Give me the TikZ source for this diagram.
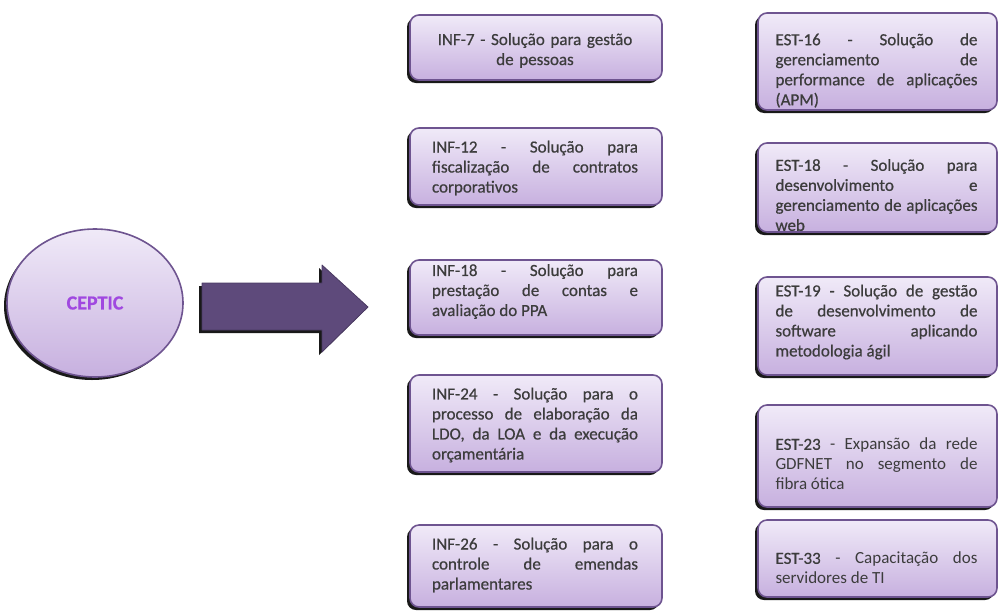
\documentclass[tikz,border=0pt]{standalone}
\usepackage{fontspec}
\setmainfont{Carlito}[FakeBold=0.6]
\newfontfamily\plainfont{Carlito}
\usetikzlibrary{shadows,shapes.geometric}
\definecolor{boxtop}{HTML}{F0EAF8}
\definecolor{boxbot}{HTML}{C7B0DF}
\definecolor{boxline}{HTML}{6E5490}
\definecolor{txt}{HTML}{3C3C3C}
\definecolor{arrowfill}{HTML}{5E4A7B}
\definecolor{arrowline}{HTML}{4A3A62}
\definecolor{ceptic}{HTML}{A048E0}
% paragraph settings for the justified card texts
\newcommand\cardpar{\lefthyphenmin=64\relax\righthyphenmin=64\relax\tolerance=10000\relax\hbadness=10000\relax\hfuzz=40pt\relax}
% \placecard{name}{style}{x}{y}{height}{text drop}{text}
\newcommand\placecard[7]{%
  \node[#2box,minimum height=#5] (#1) at (#3,#4) {};
  \node[#2text] (#1-text) at (#1.center) [yshift=-#6pt] {\cardpar #7};
}
\begin{document}
\begin{tikzpicture}[x=1pt,y=-1pt,
  shade/.style={drop shadow={shadow xshift=-3pt,shadow yshift=-3pt,opacity=0.9,fill=black}},
  cardbox/.style={shade,draw=boxline,line width=1.6pt,rounded corners=9pt,
    top color=boxtop,bottom color=boxbot,inner sep=0pt,anchor=center},
  cardtext/.style={text=txt,font=\fontsize{17}{20}\selectfont,align=justify,inner sep=0pt,anchor=center},
  lbox/.style={cardbox,minimum width=252pt},
  ltext/.style={cardtext,text width=206pt,xshift=-1pt},
  cbox/.style={lbox},
  ctext/.style={ltext,align=center},
  rbox/.style={cardbox,minimum width=239pt},
  rtext/.style={cardtext,text width=202pt,xshift=-1pt},
]
\useasboundingbox (0,0) rectangle (1000,611);

% source circle
\node[ellipse,shade,draw=boxline,line width=1.6pt,top color=boxtop,bottom color=boxbot,
  minimum width=176pt,minimum height=148pt,text=ceptic,font=\fontsize{20}{22}\selectfont\bfseries]
  (ceptic) at (95,303) {CEPTIC};

% block arrow
\path[shade,fill=arrowfill,draw=arrowline,line width=0.8pt,line join=round]
  (202,283) -- (322,283) -- (322,265) -- (368,307) -- (322,352) -- (322,330) -- (202,330) -- cycle;

% INF column
\placecard{inf7}{c}{536}{47.5}{65pt}{3}{INF-7 - Solução para gestão\\de pessoas}
\placecard{inf12}{l}{536}{166.5}{77pt}{1.5}{INF-12 - Solução para\linebreak fiscalização de contratos\linebreak corporativos}
\placecard{inf18}{l}{536}{297.5}{75pt}{-6}{INF-18 - Solução para\linebreak prestação de contas e\linebreak avaliação do PPA}
\placecard{inf24}{l}{536}{423.5}{97pt}{1.5}{INF-24 - Solução para o\linebreak processo de elaboração da\linebreak LDO, da LOA e da execução\linebreak orçamentária}
\placecard{inf26}{l}{536}{566}{82pt}{-1}{INF-26 - Solução para o\linebreak controle de emendas\linebreak parlamentares}

% EST column
\placecard{est16}{r}{877.5}{61.5}{97pt}{9}{EST-16 - Solução de\linebreak gerenciamento de\linebreak performance de aplicações\linebreak (APM)}
\placecard{est18}{r}{877.5}{187.5}{89pt}{7.5}{EST-18 - Solução para\linebreak desenvolvimento e\linebreak gerenciamento de aplicações\linebreak web}
\placecard{est19}{r}{877.5}{326}{98pt}{-4}{EST-19 - Solução de gestão\linebreak de desenvolvimento de\linebreak software aplicando\linebreak metodologia ágil}
\placecard{est23}{r}{877.5}{456}{102pt}{8}{EST-23 {\plainfont - Expansão da rede\linebreak GDFNET no segmento de\linebreak fibra ótica}}
\placecard{est33}{r}{877.5}{558.5}{77pt}{9.5}{EST-33 {\plainfont - Capacitação dos\linebreak servidores de TI}}
\end{tikzpicture}
\end{document}
